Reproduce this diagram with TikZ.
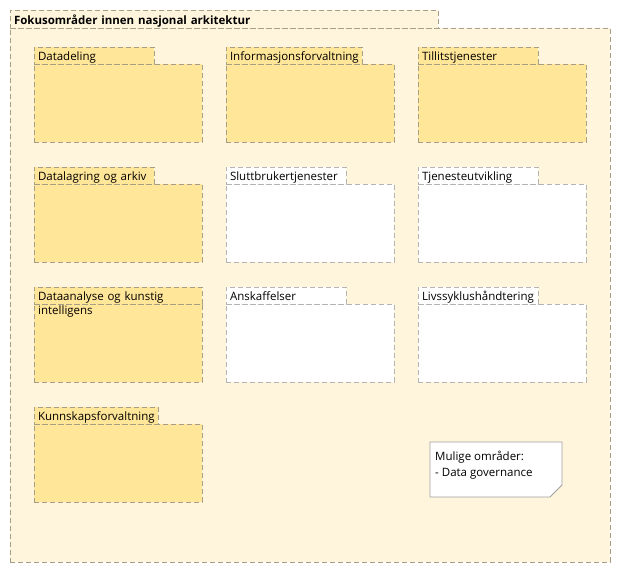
\documentclass[tikz,border=0pt]{standalone}
\usepackage{fontspec}
\setmainfont{Open Sans}
\usetikzlibrary{positioning}
\definecolor{bakgrunn}{HTML}{FFF5DC}
\definecolor{fokus}{HTML}{FFE699}
\definecolor{kantgul}{HTML}{A89E85}
\definecolor{kantgraa}{HTML}{B4B4B4}
\definecolor{notatkant}{HTML}{A0A0A0}
\tikzset{
  strek/.style={dash pattern=on 5bp off 3bp,line width=0.8bp},
  gul/.style={strek,draw=kantgul,fill=fokus},
  hvit/.style={strek,draw=kantgraa,fill=white},
  kropp/.style={inner sep=0pt,outer sep=0pt,anchor=north west,minimum width=168bp,minimum height=78bp},
  fane/.style={inner xsep=4bp,inner ysep=0pt,outer sep=0pt,minimum height=17bp,text height=11.5bp,text depth=1.5bp,anchor=south west},
  notat/.style={draw=notatkant,fill=white,line width=0.8bp}
}
% navn, x, y, tekstbredde i fanen, stil, tekst
\newcommand{\fokusomraade}[6]{%
  \node[kropp,#5] (#1) at (#2,#3) {};
  \node[fane,#5,text width=#4bp] (#1-fane) at (#1.north west) {#6};
}

\begin{document}
\begin{tikzpicture}[x=1bp,y=-1bp,font=\fontsize{11.5bp}{15.5bp}\selectfont]
  \useasboundingbox (0,0) rectangle (621,573);
  % ytre pakke
  \node[strek,draw=kantgul,fill=bakgrunn,inner sep=0pt,outer sep=0pt,anchor=north west,
    minimum width=600bp,minimum height=534bp] (arkitektur) at (10,28) {};
  \node[fane,strek,draw=kantgul,fill=bakgrunn,text width=420bp,minimum height=18bp,
    text height=12bp,text depth=1bp,font=\fontsize{11.5bp}{15.5bp}\selectfont\bfseries]
    (arkitektur-fane) at (arkitektur.north west) {Fokusområder innen nasjonal arkitektur};
  % fokusområder
  \fokusomraade{datadeling}{34}{64}{112}{gul}{Datadeling}
  \fokusomraade{informasjon}{226}{64}{128}{gul}{Informasjonsforvaltning}
  \fokusomraade{tillit}{418}{64}{112}{gul}{Tillitstjenester}
  \fokusomraade{datalagring}{34}{184}{112}{gul}{Datalagring og arkiv}
  \fokusomraade{sluttbruker}{226}{184}{112}{hvit}{Sluttbrukertjenester}
  \fokusomraade{tjeneste}{418}{184}{112}{hvit}{Tjenesteutvikling}
  \fokusomraade{dataanalyse}{34}{304}{160}{gul}{Dataanalyse og kunstig}
  \fokusomraade{anskaffelser}{226}{304}{112}{hvit}{Anskaffelser}
  \fokusomraade{livssyklus}{418}{304}{112}{hvit}{Livssyklushåndtering}
  \fokusomraade{kunnskap}{34}{424}{116}{gul}{Kunnskapsforvaltning}
  \node[anchor=north west,inner xsep=4bp,inner ysep=0pt,text height=10.5bp] (dataanalyse-tekst)
    at (dataanalyse.north west) {intelligens};
  % notat
  \draw[notat] (430,442) -- (562,442) -- (562,485) -- (550,497) -- (430,497) -- cycle;
  \node[anchor=north west,align=left,inner sep=0pt] (mulige) at (435,451)
    {Mulige områder:\\- Data governance};
\end{tikzpicture}
\end{document}
